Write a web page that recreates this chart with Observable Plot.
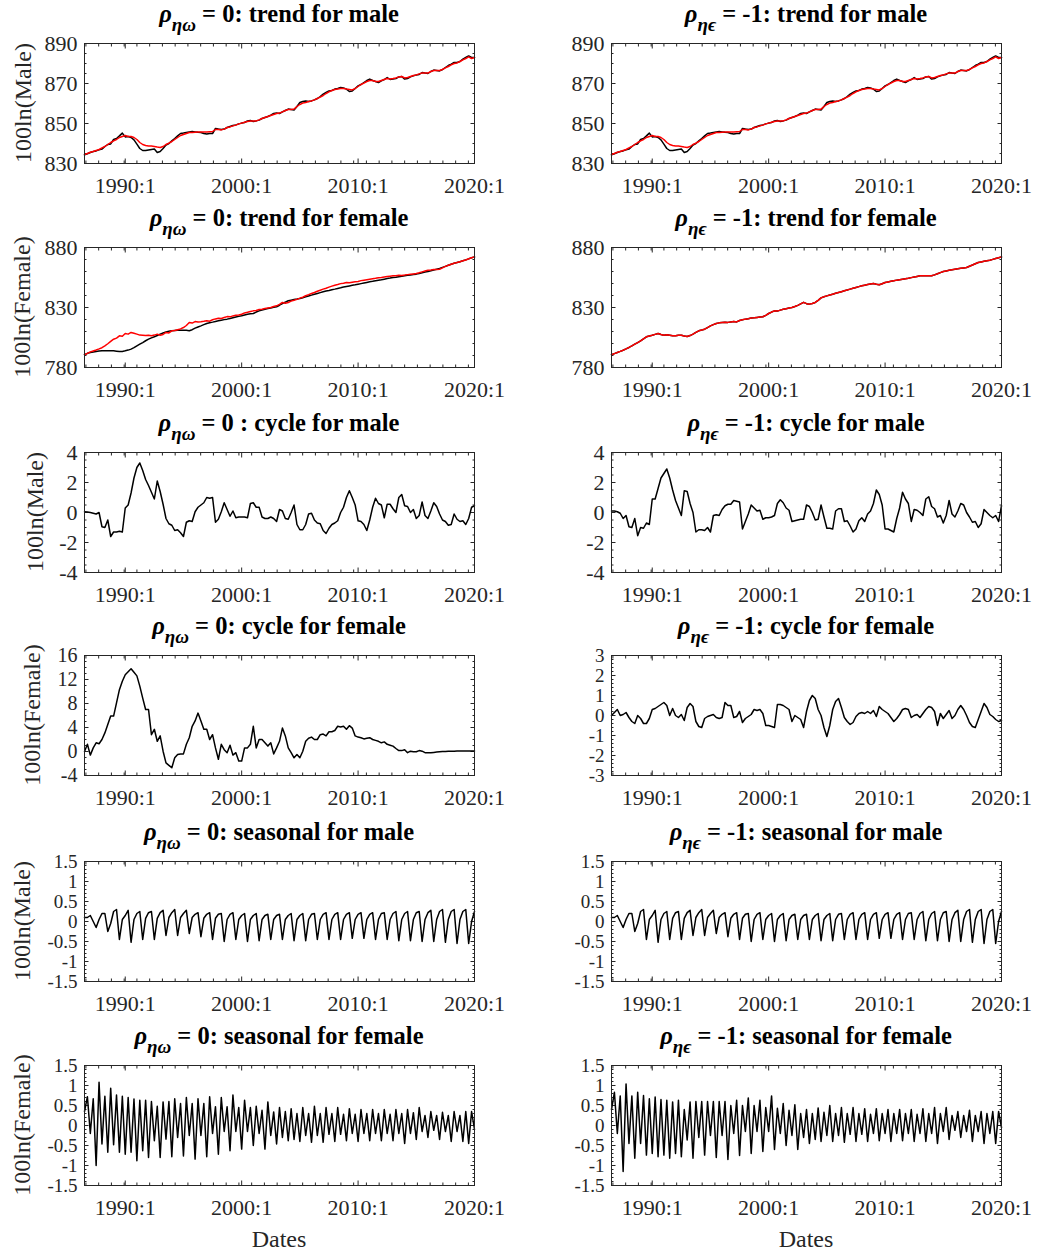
<!DOCTYPE html>
<html>
<head>
<meta charset="utf-8">
<script src="https://cdn.jsdelivr.net/npm/d3@7"></script>
<script src="https://cdn.jsdelivr.net/npm/@observablehq/plot@0.6"></script>
<style>
  body { margin: 0; background: #fff; }
  #fig { position: relative; width: 1037px; height: 1253px; overflow: hidden; background: #fff;
         font-family: "Liberation Serif", "Times New Roman", serif; }
  #fig svg { position: absolute; }
</style>
</head>
<body>
<div id="fig"></div>
<script>
// ---------- time axis (quarterly, 1986:3 .. 2020:1) ----------
const startYear = 1986.5;      // 1986:3
const quarterStep = 0.25;
const xTickYears = [1990, 2000, 2010, 2020];
const xTickLabels = ["1990:1", "2000:1", "2010:1", "2020:1"];

// ---------- trend, male (black = estimate, red = comparison) ----------
const maleTrendBlack = [
  834.3, 834.9,
  835.5, 836.0, 836.3, 836.8,  837.2, 838.5, 839.5, 839.8,  842.0, 842.5, 843.8, 845.2,
  843.3, 843.5, 843.0, 841.8,  839.7, 837.5, 836.5, 836.5,  836.8, 837.0, 837.2, 835.5,
  836.0, 837.5, 839.2, 840.0,  841.3, 842.5, 843.8, 845.0,  845.2, 845.5, 845.8, 846.0,
  845.8, 845.6, 845.5, 845.0,  844.7, 845.0, 845.0, 847.5,  847.2, 847.0, 847.2, 848.0,
  848.5, 849.0, 849.3, 849.8,  850.2, 850.5, 851.3, 851.5,  851.0, 851.3, 851.7, 852.5,
  853.0, 853.5, 854.2, 855.0,  855.2, 855.0, 855.8, 856.5,  857.2, 857.0, 856.8, 858.5,
  860.5, 861.0, 861.3, 861.0,  861.3, 861.8, 862.5, 863.5,  864.7, 865.5, 866.3, 866.5,
  867.2, 867.5, 868.0, 867.8,  867.2, 866.0, 866.3, 867.5,  868.8, 869.5, 870.5, 871.5,
  872.2, 871.5, 871.0, 870.5,  871.3, 872.0, 873.0, 872.0,  872.2, 872.5, 873.3, 873.5,
  872.2, 872.5, 873.3, 873.8,  874.3, 874.5, 875.5, 875.2,  875.0, 876.0, 876.7, 876.5,
  876.3, 877.0, 878.0, 879.0,  879.7, 880.5, 880.5, 881.0,  882.2, 883.0, 883.8, 883.0,
  883.0
];
const maleTrendRed = [
  834.5, 835.0,
  835.6, 836.0, 836.5, 837.0,  837.8, 838.5, 839.5, 840.5,  841.3, 842.0, 843.0, 843.5,
  844.0, 843.5, 843.5, 843.0,  842.0, 840.5, 839.5, 839.0,  838.8, 838.7, 838.5, 838.2,
  838.0, 838.5, 839.5, 840.2,  841.0, 842.0, 843.0, 844.0,  844.5, 845.0, 845.5, 845.5,
  845.6, 845.7, 845.8, 845.8,  845.8, 845.9, 846.0, 847.0,  847.0, 846.8, 847.2, 848.0,
  848.3, 848.8, 849.2, 849.8,  850.2, 850.6, 851.0, 851.2,  851.2, 851.3, 851.8, 852.5,
  853.0, 853.5, 854.0, 854.5,  855.0, 855.2, 855.8, 856.5,  857.0, 857.0, 857.2, 858.5,
  859.5, 860.2, 860.5, 861.0,  861.3, 861.8, 862.5, 863.2,  864.0, 865.0, 865.8, 866.5,
  867.0, 867.3, 867.5, 867.5,  867.2, 867.0, 866.8, 867.5,  868.5, 869.5, 870.2, 871.0,
  871.5, 871.5, 871.0, 871.0,  871.5, 872.0, 872.5, 872.3,  872.5, 872.8, 873.3, 873.5,
  872.8, 873.0, 873.5, 874.0,  874.3, 874.8, 875.3, 875.3,  875.2, 876.0, 876.5, 876.5,
  876.5, 877.0, 877.8, 878.5,  879.3, 880.0, 880.3, 881.0,  881.8, 882.5, 883.3, 882.5,
  883.0
];
// the rho = -1 male trend panel shows the same two lines
const maleTrendBlackR = maleTrendBlack;
const maleTrendRedR = maleTrendRed;

// ---------- trend, female ----------
const femaleTrendBlack = [
  790.6, 791.8,
  792.5, 793.0, 793.4, 793.7,  793.9, 794.0, 793.9, 794.0,  793.9, 793.6, 793.3, 793.4,
  793.9, 794.5, 795.3, 796.5,  798.0, 799.4, 800.8, 802.3,  803.6, 804.7, 805.6, 806.7,
  807.8, 808.8, 809.7, 810.2,  810.6, 810.8, 811.0, 811.1,  811.1, 811.0, 810.6, 811.5,
  812.8, 813.8, 814.7, 815.7,  816.7, 817.3, 817.8, 818.4,  818.9, 819.4, 819.9, 820.3,
  820.8, 821.4, 822.0, 822.6,  823.1, 823.8, 824.4, 824.7,  825.0, 826.2, 827.2, 827.9,
  828.6, 829.1, 829.6, 830.1,  830.6, 831.9, 833.3, 834.5,  835.6, 836.1, 836.6, 837.0,
  837.5, 838.2, 838.9, 839.6,  840.3, 841.0, 841.7, 842.4,  843.1, 843.7, 844.2, 844.8,
  845.3, 845.9, 846.4, 847.0,  847.5, 848.0, 848.5, 848.9,  849.4, 849.9, 850.4, 850.9,
  851.4, 851.8, 852.3, 852.7,  853.1, 853.6, 854.1, 854.5,  855.0, 855.3, 855.7, 856.0,
  856.4, 856.8, 857.1, 857.5,  857.8, 858.4, 858.9, 859.5,  860.0, 860.6, 861.3, 861.9,
  862.5, 863.4, 864.3, 865.2,  866.1, 866.8, 867.5, 868.2,  868.9, 869.7, 870.5, 871.4,
  872.2
];
const femaleTrendRed = [
  790.6, 791.8,
  793.0, 793.8, 794.6, 795.5,  796.5, 798.0, 799.8, 801.8,  803.6, 804.5, 806.4, 806.0,
  808.3, 807.8, 809.2, 808.5,  807.8, 807.0, 806.9, 806.6,  806.9, 806.5, 807.0, 807.8,
  806.9, 807.5, 809.2, 808.8,  810.6, 810.8, 811.5, 812.2,  813.3, 815.0, 817.5, 817.0,
  818.3, 818.0, 818.2, 818.5,  818.9, 818.6, 819.8, 820.5,  821.1, 820.8, 821.6, 822.4,
  822.2, 823.0, 823.6, 823.8,  824.4, 825.5, 826.0, 826.6,  827.2, 827.5, 828.3, 828.6,
  829.2, 829.6, 830.0, 830.8,  831.4, 832.6, 834.2, 833.5,  834.2, 835.3, 836.0, 836.8,
  837.8, 838.6, 839.8, 840.7,  841.7, 842.5, 843.5, 844.4,  845.3, 846.1, 847.0, 847.8,
  848.6, 849.2, 849.9, 850.2,  850.8, 850.6, 851.0, 851.4,  851.7, 852.4, 852.8, 853.2,
  853.6, 854.0, 854.3, 854.8,  855.0, 855.4, 855.8, 856.1,  856.4, 856.5, 856.8, 856.7,
  857.0, 857.4, 857.7, 858.0,  858.3, 858.9, 859.7, 860.4,  861.1, 861.3, 861.6, 861.7,
  861.9, 863.0, 864.3, 865.2,  866.1, 866.9, 867.5, 868.2,  868.9, 869.6, 870.6, 871.4,
  872.2
];
const femaleTrendBlackR = [
  790.6, 791.6,
  792.5, 793.4, 794.4, 795.5,  796.7, 798.0, 799.4, 800.8,  802.2, 803.9, 805.6, 806.3,
  806.9, 807.6, 808.3, 807.5,  806.9, 807.2, 806.9, 806.5,  806.4, 806.8, 806.9, 806.2,
  805.8, 806.6, 807.8, 809.2,  810.6, 811.2, 811.9, 813.3,  814.7, 815.7, 816.7, 817.2,
  817.5, 817.8, 817.6, 818.0,  818.3, 818.0, 819.2, 819.8,  820.3, 820.6, 821.2, 821.4,
  821.7, 822.0, 822.3, 823.5,  825.0, 826.2, 827.2, 827.0,  827.8, 828.5, 829.0, 829.5,
  830.0, 830.8, 831.8, 833.0,  834.3, 833.2, 832.8, 833.4,  834.2, 836.0, 838.0, 839.0,
  839.7, 840.4, 841.1, 841.8,  842.5, 843.2, 843.9, 844.6,  845.3, 846.0, 846.7, 847.4,
  848.1, 848.6, 849.1, 849.6,  850.0, 849.4, 848.9, 849.8,  850.8, 851.3, 851.8, 852.3,
  852.8, 853.2, 853.6, 854.0,  854.4, 854.9, 855.4, 855.9,  856.4, 856.4, 856.5, 856.4,
  856.4, 857.2, 858.1, 859.1,  860.0, 860.5, 861.0, 861.5,  861.9, 862.3, 862.7, 863.0,
  863.3, 864.4, 865.4, 866.5,  867.5, 868.0, 868.5, 869.0,  869.4, 870.1, 870.8, 871.5,
  872.2
];
const femaleTrendRedR = femaleTrendBlackR;   // red overlays black almost exactly

// ---------- cycle ----------
const maleCycleL = [
  0.05, 0.03,
  0.0, -0.05, -0.1, 0.0,   -0.95, -1.0, -0.5, -1.6,   -1.3, -1.3, -1.25, -1.3,
  0.3, 0.5, 1.3, 2.3,      3.0, 3.3, 2.8, 2.2,        1.8, 1.35, 0.9, 2.1,
  1.4, 0.55, -0.4, -0.75,  -0.85, -1.2, -1.15, -1.35, -1.6, -0.65, -0.55, -0.6,
  0.05, 0.35, 0.5, 0.65,   1.0, 0.95, 1.0, -0.65,     -0.45, 0.05, 0.65, 0.2,
  -0.25, 0.1, -0.35, -0.3, -0.3, -0.3, -0.35, 0.6,    0.65, 0.35, 0.35, -0.3,
  -0.4, -0.4, -0.3, -0.4,  -0.6, 0.2, 0.1, -0.4,      -0.45, 0.0, 0.5, -0.8,
  -1.15, -1.15, -0.8, -0.1, -0.05, -0.5, -0.7, -0.75, -1.2, -1.4, -1.05, -0.8,
  -0.7, -0.55, 0.0, 0.35,  1.0, 1.45, 1.0, 0.5,       -0.55, -0.6, -0.8, -1.2,
  -0.5, 0.35, 0.95, 0.6,   0.5, -0.35, 0.55, 0.55,    0.25, 0.0, 1.0, 1.2,
  0.45, 0.4, 0.0, 0.2,     -0.4, -0.2, 0.7, -0.2,     -0.4, 0.1, 0.65, 0.4,
  -0.1, -0.5, -0.6, -0.85, -0.8, -0.1, -0.45, -0.6,   -0.55, -0.8, -0.4, 0.35,
  0.45
];
const maleCycleR = [
  0.1, 0.1,
  0.05, -0.05, -0.4, -0.2,  -0.95, -1.0, -0.4, -1.55,  -1.0, -1.05, -0.7, -0.8,
  0.9, 0.9, 1.6, 2.3,       2.6, 2.9, 2.3, 1.5,        0.8, 0.3, -0.2, 1.45,
  1.4, 0.6, 0.0, -1.3,      -1.15, -1.15, -1.2, -1.0,  -1.3, -0.2, -0.15, -0.2,
  0.2, 0.45, 0.55, 0.55,    0.8, 0.75, 0.7, -1.1,      -0.6, -0.1, 0.5, 0.3,
  0.1, 0.15, -0.45, -0.35,  -0.35, -0.3, -0.2, 0.6,    0.85, 0.65, 0.3, 0.15,
  -0.6, -0.55, -0.5, -0.45, -0.45, 0.5, 0.4, 0.0,      -0.5, -0.45, 0.5, -0.3,
  -1.05, -1.05, -1.1, 0.1,  0.25, 0.25, -0.6, -0.55,   -0.9, -1.3, -1.1, -0.55,
  -0.35, -0.6, -0.1, 0.1,   0.6, 1.5, 1.2, 0.5,        -1.1, -1.1, -1.2, -1.3,
  -0.4, 0.3, 1.35, 0.9,     0.6, -0.6, 0.2, 0.15,      0.0, -0.2, 0.9, 1.05,
  0.4, 0.25, -0.3, -0.2,    -0.7, -0.2, 0.8, -0.1,     -0.3, 0.1, 0.6, 0.5,
  0.0, -0.3, -0.65, -0.6,   -1.0, -0.75, 0.2, 0.0,     -0.2, -0.35, -0.2, -0.6,
  0.45
];
const femaleCycleL = [
  0.0, 1.2,
  -0.6, 0.6, 1.45, 1.3,     2.0, 3.1, 4.5, 5.9,        5.9, 8.1, 10.3, 11.7,
  12.8, 13.3, 13.8, 13.2,   12.6, 10.9, 8.9, 7.0,      7.0, 2.8, 3.7, 1.7,
  2.6, 0.05, -1.9, -2.3,    -2.7, -1.05, -0.5, -0.4,   -0.4, 1.2, 2.3, 4.2,
  5.1, 6.4, 5.1, 3.7,       3.7, 2.0, 2.8, 0.6,        -1.3, 1.2, 0.3, -0.2,
  1.05, -0.6, -0.2, -1.6,   -1.6, 0.6, 0.6, 1.2,       4.2, 0.6, 2.0, 2.0,
  1.45, 0.9, 1.45, -0.4,    0.6, 1.7, 3.9, 2.6,        0.6, -0.2, -1.05, -0.5,
  -1.05, 0.05, 1.7, 2.2,    2.4, 2.0, 2.0, 2.8,        2.9, 2.6, 3.3, 3.3,
  3.5, 4.2, 4.1, 4.2,       3.7, 4.3, 3.9, 2.6,        2.4, 2.3, 2.1, 2.2,
  2.3, 2.0, 1.85, 1.7,      1.45, 1.6, 1.2, 1.05,      0.9, 0.5, 0.15, 0.15,
  0.3, -0.2, 0.05, -0.05,   -0.05, 0.15, 0.05, -0.2,   -0.2, -0.2, -0.15, -0.1,
  -0.05, 0.0, 0.0, 0.05,    0.05, 0.05, 0.1, 0.1,      0.1, 0.1, 0.1, 0.1,
  0.1
];
const femaleCycleR = [
  0.0, 0.15,
  0.3, 0.0, 0.05, 0.15,     -0.1, -0.3, -0.4, 0.0,     -0.15, -0.4, -0.4, -0.15,
  0.3, 0.35, 0.45, 0.55,    0.65, 0.5, 0.0, 0.35,      0.0, -0.1, 0.05, -0.25,
  0.4, 0.6, 0.45, -0.3,     -0.55, -0.6, -0.15, -0.05, 0.0, 0.05, -0.1, -0.15,
  -0.1, 0.65, 0.5, 0.5,     -0.1, -0.05, 0.2, -0.35,   -0.15, -0.05, 0.05, 0.3,
  0.25, 0.3, 0.1, -0.5,     -0.5, -0.55, -0.6, 0.55,   0.55, 0.5, 0.4, 0.3,
  -0.3, 0.0, -0.1, -0.2,    -0.6, 0.2, 0.75, 1.0,      0.85, 0.3, 0.0, -0.6,
  -1.05, -0.5, 0.3, 0.7,    0.85, 0.4, -0.1, -0.3,     -0.45, -0.35, -0.05, 0.1,
  0.15, 0.1, 0.2, 0.1,      0.25, -0.05, 0.45, 0.3,    0.2, 0.1, -0.1, -0.3,
  -0.15, 0.05, 0.3, 0.35,   0.3, -0.1, 0.0, 0.05,      -0.1, 0.1, 0.3, 0.45,
  0.4, 0.2, -0.5, 0.1,      -0.15, 0.05, 0.25, -0.15,  0.0, 0.3, 0.5, 0.3,
  0.0, -0.35, -0.55, -0.6,  -0.2, 0.2, 0.6, 0.4,       0.05, -0.05, -0.2, -0.3,
  -0.25
];

// ---------- seasonal ----------
const maleSeasonalL = [
  0.10, 0.10,
  0.15, 0.0, -0.15, 0.05,   0.20, 0.20, -0.25, -0.05,  0.25, 0.30, -0.45, 0.05,
  0.15, 0.28, -0.52, 0.05,  0.20, 0.25, -0.45, 0.08,   0.22, 0.25, -0.45, 0.08,
  0.22, 0.28, -0.35, 0.10,  0.22, 0.30, -0.35, 0.10,   0.20, 0.28, -0.30, 0.10,
  0.18, 0.22, -0.38, 0.08,  0.18, 0.22, -0.45, 0.08,   0.18, 0.20, -0.50, 0.05,
  0.18, 0.22, -0.45, 0.05,  0.15, 0.20, -0.50, 0.05,   0.15, 0.20, -0.48, 0.05,
  0.15, 0.18, -0.45, 0.05,  0.15, 0.18, -0.45, 0.05,   0.15, 0.20, -0.48, 0.05,
  0.15, 0.20, -0.48, 0.05,  0.18, 0.20, -0.45, 0.05,   0.18, 0.22, -0.45, 0.05,
  0.18, 0.22, -0.45, 0.05,  0.18, 0.22, -0.42, 0.05,   0.18, 0.22, -0.42, 0.05,
  0.18, 0.22, -0.45, 0.05,  0.20, 0.22, -0.45, 0.05,   0.20, 0.25, -0.48, 0.05,
  0.20, 0.25, -0.48, 0.05,  0.22, 0.25, -0.50, 0.05,   0.22, 0.28, -0.50, 0.05,
  0.25, 0.30, -0.52, 0.05,  0.25, 0.30, -0.55, 0.05,   0.25, 0.30, -0.55, 0.00,
  0.25
];
const maleSeasonalR = maleSeasonalL;   // same seasonal shape in the rho = -1 panel
const femaleSeasonalL = [
  0.35, 0.72,
  -0.20, 0.67, -1.00, 1.08,  -0.46, 0.73, -0.67, 0.93,  -0.48, 0.76, -0.67, 0.73,
  -0.72, 0.70, -0.67, 0.66,  -0.88, 0.63, -0.63, 0.63,  -0.80, 0.60, -0.38, 0.48,
  -0.80, 0.59, -0.34, 0.60,  -0.78, 0.67, -0.30, 0.55,  -0.76, 0.70, -0.25, 0.55,
  -0.84, 0.67, -0.25, 0.55,  -0.78, 0.72, -0.20, 0.47,  -0.72, 0.70, -0.15, 0.47,
  -0.63, 0.76, -0.15, 0.45,  -0.59, 0.63, -0.15, 0.45,  -0.50, 0.48, -0.20, 0.38,
  -0.59, 0.59, -0.25, 0.34,  -0.46, 0.45, -0.30, 0.35,  -0.38, 0.42, -0.35, 0.30,
  -0.40, 0.45, -0.25, 0.30,  -0.42, 0.48, -0.25, 0.30,  -0.42, 0.45, -0.22, 0.30,
  -0.40, 0.45, -0.22, 0.28,  -0.38, 0.42, -0.20, 0.28,  -0.40, 0.40, -0.20, 0.30,
  -0.38, 0.40, -0.20, 0.30,  -0.38, 0.40, -0.20, 0.28,  -0.38, 0.40, -0.20, 0.30,
  -0.45, 0.40, -0.20, 0.32,  -0.35, 0.45, -0.15, 0.25,  -0.30, 0.35, -0.12, 0.25,
  -0.35, 0.33, -0.15, 0.25,  -0.40, 0.35, -0.15, 0.25,  -0.40, 0.35, -0.45, 0.35,
  -0.10
];
const femaleSeasonalR = [
  0.40, 0.83,
  -0.20, 0.74, -1.15, 1.04,  -0.45, 0.74, -0.82, 0.83,  -0.45, 0.75, -0.74, 0.67,
  -0.70, 0.71, -0.78, 0.65,  -0.74, 0.63, -0.82, 0.59,  -0.70, 0.63, -0.78, 0.40,
  -0.36, 0.59, -0.82, 0.60,  -0.30, 0.60, -0.74, 0.60,  -0.25, 0.60, -0.80, 0.60,
  -0.25, 0.60, -0.85, 0.50,  -0.20, 0.63, -0.75, 0.50,  -0.15, 0.69, -0.70, 0.50,
  -0.15, 0.63, -0.65, 0.45,  -0.15, 0.74, -0.60, 0.43,  -0.20, 0.55, -0.50, 0.38,
  -0.25, 0.52, -0.60, 0.30,  -0.30, 0.40, -0.45, 0.30,  -0.35, 0.44, -0.40, 0.33,
  -0.25, 0.50, -0.40, 0.30,  -0.25, 0.45, -0.42, 0.30,  -0.22, 0.45, -0.40, 0.30,
  -0.22, 0.42, -0.40, 0.28,  -0.20, 0.42, -0.38, 0.30,  -0.20, 0.40, -0.40, 0.30,
  -0.20, 0.40, -0.38, 0.30,  -0.20, 0.40, -0.40, 0.28,  -0.20, 0.42, -0.40, 0.30,
  -0.20, 0.45, -0.45, 0.30,  -0.15, 0.45, -0.35, 0.25,  -0.12, 0.35, -0.30, 0.25,
  -0.15, 0.38, -0.40, 0.25,  -0.15, 0.35, -0.45, 0.30,  -0.20, 0.35, -0.45, 0.35,
  -0.05
];

// ---------- panel texts ----------
const subLeft = "ηω", subRight = "ηϵ";
const titleRest = [
  [" = 0: trend for male",      " = -1: trend for male"],
  [" = 0: trend for female",    " = -1: trend for female"],
  [" = 0 : cycle for male",     " = -1: cycle for male"],
  [" = 0: cycle for female",    " = -1: cycle for female"],
  [" = 0: seasonal for male",   " = -1: seasonal for male"],
  [" = 0: seasonal for female", " = -1: seasonal for female"]
];
const yLabels = ["100ln(Male)", "100ln(Female)", "100ln(Male)", "100ln(Female)", "100ln(Male)", "100ln(Female)"];
const xLabel = "Dates";

// ---------- layout ----------
const rowTops = [43, 247, 452, 655, 861, 1065];
const plotW = 390, plotH = 120;
const colLeft = [84, 611];
const yLabelX = [23, 22, 35, 32, 22, 22];
const axisColor = "#262626";
const fontFam = "'Liberation Serif', 'Times New Roman', serif";

const panels = [
  {row: 0, col: 0, dom: [830, 890], ticks: [830, 850, 870, 890], minor: 5,  fs: 22, series: [[maleTrendBlack, "#000"], [maleTrendRed, "#ff0000"]]},
  {row: 0, col: 1, dom: [830, 890], ticks: [830, 850, 870, 890], minor: 5,  fs: 22, series: [[maleTrendBlackR, "#000"], [maleTrendRedR, "#ff0000"]]},
  {row: 1, col: 0, dom: [780, 880], ticks: [780, 830, 880], minor: 10, fs: 22, series: [[femaleTrendBlack, "#000"], [femaleTrendRed, "#ff0000"]]},
  {row: 1, col: 1, dom: [780, 880], ticks: [780, 830, 880], minor: 10, fs: 22, series: [[femaleTrendBlackR, "#000"], [femaleTrendRedR, "#ff0000"]]},
  {row: 2, col: 0, dom: [-4, 4], ticks: [-4, -2, 0, 2, 4], minor: 0.5, fs: 22, series: [[maleCycleL, "#000"]]},
  {row: 2, col: 1, dom: [-4, 4], ticks: [-4, -2, 0, 2, 4], minor: 0.5, fs: 22, series: [[maleCycleR, "#000"]]},
  {row: 3, col: 0, dom: [-4, 16], ticks: [-4, 0, 4, 8, 12, 16], minor: 1, fs: 20, series: [[femaleCycleL, "#000"]]},
  {row: 3, col: 1, dom: [-3, 3], ticks: [-3, -2, -1, 0, 1, 2, 3], minor: 0.2, fs: 19, series: [[femaleCycleR, "#000"]]},
  {row: 4, col: 0, dom: [-1.5, 1.5], ticks: [-1.5, -1, -0.5, 0, 0.5, 1, 1.5], minor: 0.1, fs: 19, series: [[maleSeasonalL, "#000"]]},
  {row: 4, col: 1, dom: [-1.5, 1.5], ticks: [-1.5, -1, -0.5, 0, 0.5, 1, 1.5], minor: 0.1, fs: 19, series: [[maleSeasonalR, "#000"]]},
  {row: 5, col: 0, dom: [-1.5, 1.5], ticks: [-1.5, -1, -0.5, 0, 0.5, 1, 1.5], minor: 0.1, fs: 19, series: [[femaleSeasonalL, "#000"]]},
  {row: 5, col: 1, dom: [-1.5, 1.5], ticks: [-1.5, -1, -0.5, 0, 0.5, 1, 1.5], minor: 0.1, fs: 19, series: [[femaleSeasonalR, "#000"]]}
];

// minor x ticks (MATLAB datenum grid, every 400 days), converted to decimal years
const xMinor = d3.range(725600, 737601, 400).map(d => 1990 + (d - 726834) / 365.25);

function toRows(values) {
  return values.map((v, i) => ({t: startYear + i * quarterStep, v}));
}

const fig = document.getElementById("fig");

for (const p of panels) {
  const svgLeft = p.col === 0 ? 0 : 540;
  const ml = colLeft[p.col] - svgLeft, mr = 36, mt = 10, mb = 44;
  const yMinor = d3.range(p.dom[0], p.dom[1] + 1e-9, p.minor).map(v => +v.toFixed(6));
  const tickCommon = {fill: "none", stroke: axisColor, strokeWidth: 1, label: null};
  const marks = [
    Plot.axisX(xMinor, {anchor: "bottom", tickSize: -2.5, ...tickCommon}),
    Plot.axisX(xMinor, {anchor: "top", tickSize: -2.5, ...tickCommon}),
    Plot.axisX(xTickYears, {anchor: "bottom", tickSize: -4.5, ...tickCommon}),
    Plot.axisX(xTickYears, {anchor: "top", tickSize: -4.5, ...tickCommon}),
    Plot.axisY(yMinor, {anchor: "left", tickSize: -2.5, ...tickCommon}),
    Plot.axisY(yMinor, {anchor: "right", tickSize: -2.5, ...tickCommon}),
    Plot.axisY(p.ticks, {anchor: "left", tickSize: -4.5, ...tickCommon}),
    Plot.axisY(p.ticks, {anchor: "right", tickSize: -4.5, ...tickCommon}),
    Plot.axisX(xTickYears, {anchor: "bottom", tickSize: 0, tickPadding: 14, label: null,
      tickFormat: d => xTickLabels[xTickYears.indexOf(d)], fill: axisColor, fontSize: 22}),
    Plot.axisY(p.ticks, {anchor: "left", tickSize: 0, tickPadding: 7, label: null,
      tickFormat: d => String(d), fill: axisColor, fontSize: p.fs}),
    ...p.series.map(([vals, color]) =>
      Plot.line(toRows(vals), {x: "t", y: "v", stroke: color, strokeWidth: 1.5})),
    Plot.frame({stroke: axisColor, strokeWidth: 1})
  ];
  const svg = Plot.plot({
    width: ml + plotW + mr,
    height: mt + plotH + mb,
    marginLeft: ml, marginRight: mr, marginTop: mt, marginBottom: mb,
    x: {domain: [1986.5, 2020], axis: null, label: null},
    y: {domain: p.dom, axis: null, label: null},
    style: {background: "transparent", fontFamily: fontFam, fontSize: "22px", color: axisColor, overflow: "visible"},
    marks
  });
  svg.style.left = svgLeft + "px";
  svg.style.top = (rowTops[p.row] - mt) + "px";
  fig.appendChild(svg);
}

// ---------- overlay: titles, y labels, x label ----------
const NS = "http://www.w3.org/2000/svg";
const ov = document.createElementNS(NS, "svg");
ov.setAttribute("width", 1037);
ov.setAttribute("height", 1253);
ov.style.left = "0px"; ov.style.top = "0px";
ov.setAttribute("font-family", fontFam);
fig.appendChild(ov);

function el(tag, attrs, text) {
  const e = document.createElementNS(NS, tag);
  for (const k in attrs) e.setAttribute(k, attrs[k]);
  if (text != null) e.textContent = text;
  return e;
}

for (let r = 0; r < 6; r++) {
  for (let c = 0; c < 2; c++) {
    const cx = colLeft[c] + plotW / 2;
    const t = el("text", {x: cx, y: rowTops[r] - 21, "text-anchor": "middle", "font-weight": "bold", "font-size": 24.5, fill: "#000"});
    t.appendChild(el("tspan", {"font-style": "italic", "font-size": 24.5}, "ρ"));
    t.appendChild(el("tspan", {"font-style": "italic", "font-size": 19, dy: 9}, c === 0 ? subLeft : subRight));
    t.appendChild(el("tspan", {dy: -9}, titleRest[r][c]));
    ov.appendChild(t);
  }
  const cy = rowTops[r] + plotH / 2;
  ov.appendChild(el("text", {transform: `translate(${yLabelX[r]},${cy}) rotate(-90)`, "text-anchor": "middle",
    dy: "0.35em", "font-size": 24, fill: axisColor}, yLabels[r]));
}
for (let c = 0; c < 2; c++) {
  ov.appendChild(el("text", {x: colLeft[c] + plotW / 2, y: 1247, "text-anchor": "middle", "font-size": 24, fill: axisColor}, xLabel));
}
</script>
</body>
</html>
